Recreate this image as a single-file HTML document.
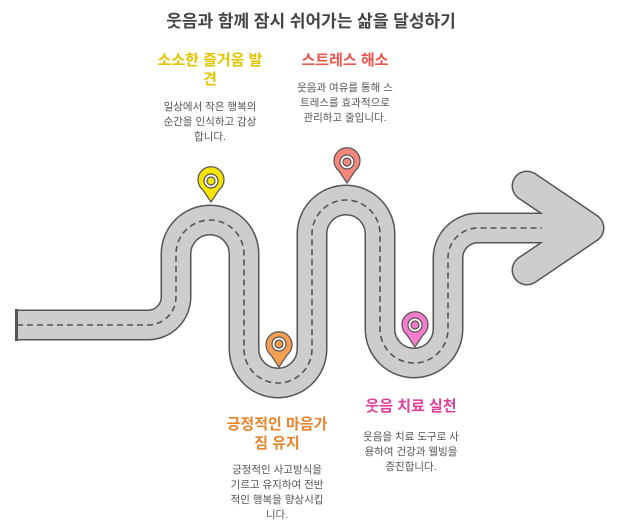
<!DOCTYPE html>
<html><head><meta charset="utf-8"><style>
html,body{margin:0;padding:0;background:#fff;}
body{width:622px;height:531px;position:relative;overflow:hidden;font-family:"Liberation Sans","Noto Sans CJK KR",sans-serif;}
.t{position:absolute;text-align:center;white-space:nowrap;}
.h{font-weight:bold;font-size:15px;line-height:19px;}
.d{font-size:10.5px;color:#555;line-height:15px;}
</style></head><body>
<div class="t" style="left:0;width:622px;top:7px;font-size:17px;font-weight:bold;color:#444;">웃음과 함께 잠시 쉬어가는 삶을 달성하기</div>

<div class="t h" style="left:130px;width:160px;top:51px;color:#e2c400;">소소한 즐거움 발<br>견</div>
<div class="t d" style="left:130px;width:160px;top:100px;">일상에서 작은 행복의<br>순간을 인식하고 감상<br>합니다.</div>

<div class="t h" style="left:265px;width:160px;top:51px;color:#e8574f;">스트레스 해소</div>
<div class="t d" style="left:265px;width:160px;top:81px;">웃음과 여유를 통해 스<br>트레스를 효과적으로<br>관리하고 줄입니다.</div>

<div class="t h" style="left:197px;width:160px;top:415px;color:#e8842a;">긍정적인 마음가<br>짐 유지</div>
<div class="t d" style="left:197px;width:160px;top:463px;">긍정적인 사고방식을<br>기르고 유지하여 전반<br>적인 행복을 향상시킵<br>니다.</div>

<div class="t h" style="left:331px;width:160px;top:397px;color:#e0409a;">웃음 치료 실천</div>
<div class="t d" style="left:331px;width:160px;top:430px;">웃음을 치료 도구로 사<br>용하여 건강과 웰빙을<br>증진합니다.</div>

<svg width="622" height="531" style="position:absolute;left:0;top:0">
<g fill="none">
<path d="M17 325 H148 A28 28 0 0 0 176 297 V254 A34 34 0 0 1 244 254 V349 A34 34 0 0 0 312 349 V234 A34 34 0 0 1 380 234 V329 A34 34 0 0 0 448 329 V258 A30 30 0 0 1 478 228 H586" stroke="#555" stroke-width="31"/>
<polyline points="527,186 589,228 527,270" stroke="#555" stroke-width="31" stroke-linecap="round" stroke-linejoin="round"/>
<path d="M17 325 H148 A28 28 0 0 0 176 297 V254 A34 34 0 0 1 244 254 V349 A34 34 0 0 0 312 349 V234 A34 34 0 0 1 380 234 V329 A34 34 0 0 0 448 329 V258 A30 30 0 0 1 478 228 H586" stroke="#cdcdcd" stroke-width="28"/>
<polyline points="527,186 589,228 527,270" stroke="#cdcdcd" stroke-width="28" stroke-linecap="round" stroke-linejoin="round"/>
<rect x="15" y="309" width="3" height="32" fill="#555" stroke="none"/>
<path d="M17 325 H148 A28 28 0 0 0 176 297 V254 A34 34 0 0 1 244 254 V349 A34 34 0 0 0 312 349 V234 A34 34 0 0 1 380 234 V329 A34 34 0 0 0 448 329 V258 A30 30 0 0 1 478 228 H542" stroke="#555" stroke-width="1.6" stroke-dasharray="6,4"/>
</g>
<g stroke="#555" stroke-width="1.2">
<path d="M211 202 L203 190 A13 13 0 1 1 219 190 Z" fill="#f7e400"/>
<circle cx="211" cy="181" r="7" fill="#fff"/><circle cx="211" cy="181" r="4" fill="#f7e400"/>
<path d="M347 183 L339 171 A13 13 0 1 1 355 171 Z" fill="#f4867c"/>
<circle cx="347" cy="162" r="7" fill="#fff"/><circle cx="347" cy="162" r="4" fill="#f4867c"/>
<path d="M279 367 L271 355 A13 13 0 1 1 287 355 Z" fill="#f5a050"/>
<circle cx="279" cy="344" r="7" fill="#fff"/><circle cx="279" cy="344" r="4" fill="#f5a050"/>
<path d="M415 347 L407 335 A13 13 0 1 1 423 335 Z" fill="#f57ccc"/>
<circle cx="415" cy="325" r="7" fill="#fff"/><circle cx="415" cy="325" r="4" fill="#f57ccc"/>
</g>
</svg>
</body></html>
